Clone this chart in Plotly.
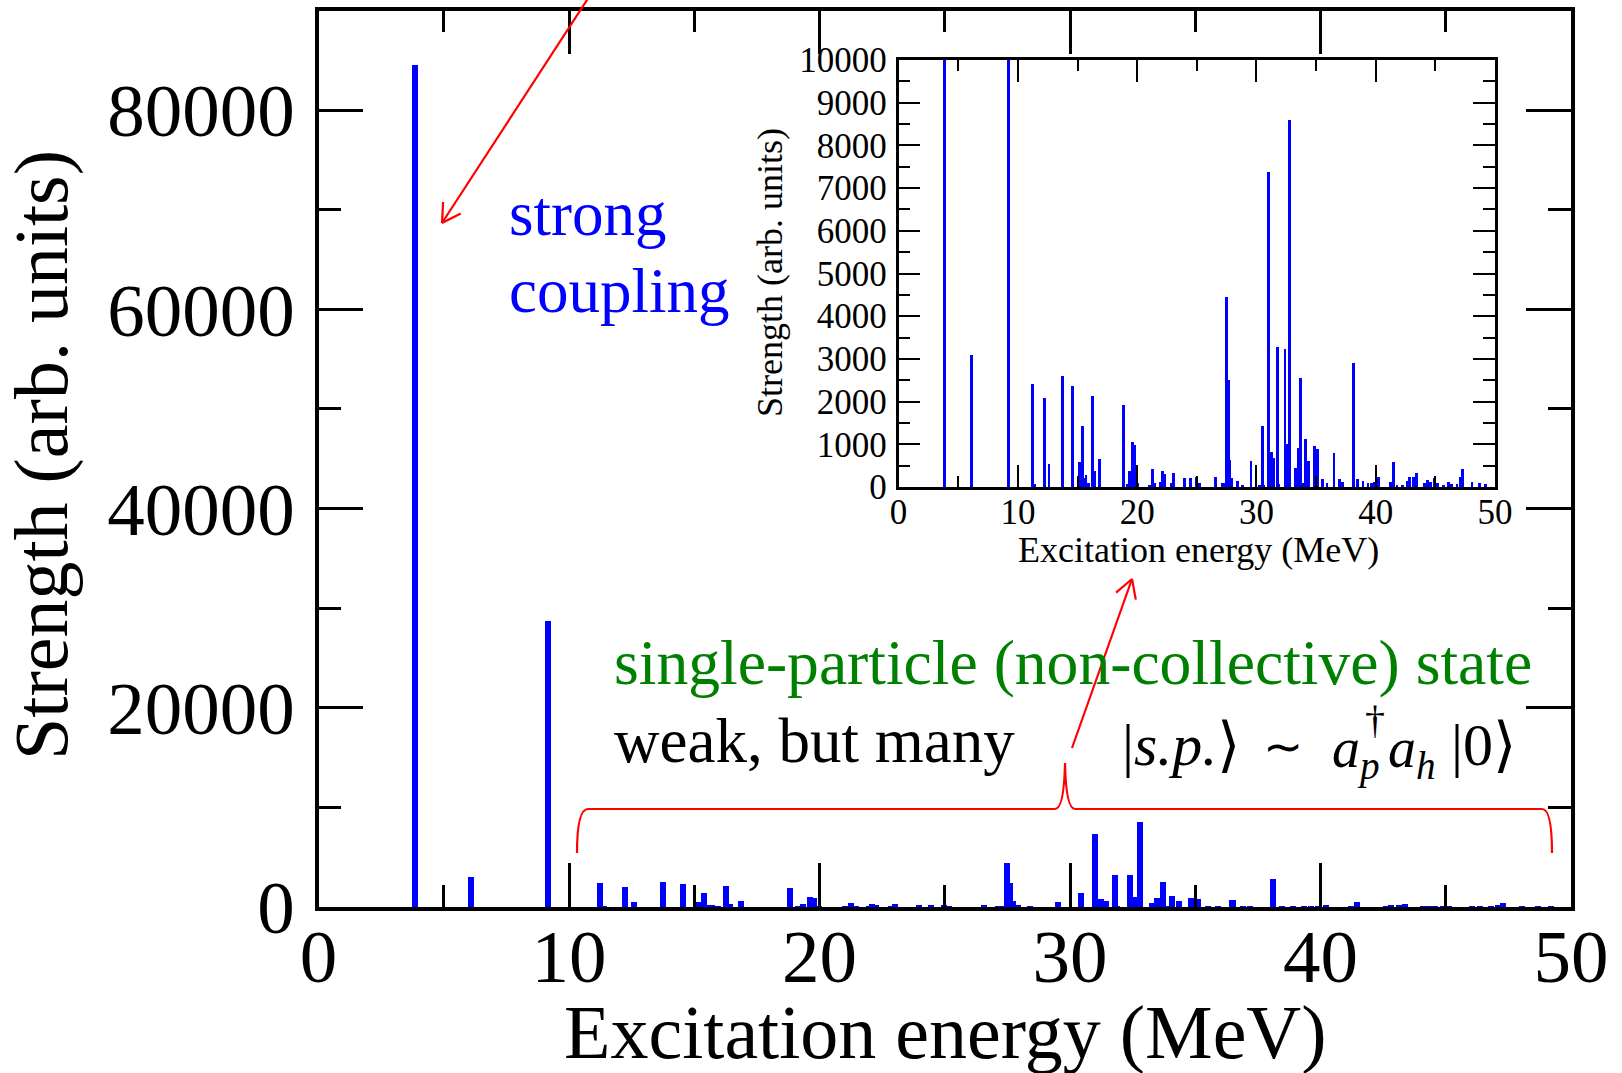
import math
import plotly.graph_objects as go

W, H = 1622, 1073
SERIF = "Liberation Serif"
RED = "#ff0000"
BLUE = "#0000ff"

# Discrete transition strengths: excitation energy (MeV) and strength (arb. units)
energy = [
    3.85, 6.07, 9.15, 11.21, 11.37, 12.23, 12.57, 13.73, 14.52, 15.15,
    15.38, 15.52, 15.68, 15.92, 16.25, 16.41, 16.84, 18.80, 19.13, 19.33,
    19.60, 19.76, 19.96, 20.99, 21.22, 21.45, 21.95, 22.08, 22.25, 22.85,
    23.01, 23.94, 24.44, 24.97, 25.17, 26.56, 27.12, 27.29, 27.45, 27.59,
    27.69, 27.92, 28.38, 28.78, 29.51, 30.24, 30.44, 30.54, 31.00, 31.20,
    31.40, 31.76, 31.86, 32.36, 32.56, 32.76, 33.25, 33.45, 33.69, 33.85,
    34.05, 34.35, 34.81, 35.11, 35.48, 35.88, 36.47, 36.90, 37.17, 38.10,
    38.43, 38.90, 39.32, 39.62, 39.89, 40.19, 41.21, 41.45, 41.75, 42.20,
    42.60, 42.80, 43.13, 43.36, 44.06, 44.30, 44.54, 44.86, 45.12, 45.68,
    46.05, 46.35, 46.78, 47.05, 47.25, 48.04, 48.67, 49.17,
]
strength = [
    84600, 3100, 28800, 2420, 70, 2080, 540, 2600, 2370, 580,
    1440, 210, 290, 95, 2140, 370, 660, 1930, 70, 380,
    1050, 990, 95, 55, 420, 95, 110, 380, 300, 95,
    330, 210, 210, 230, 95, 235, 95, 95, 4440, 2510,
    640, 210, 135, 30, 600, 45, 1420, 30, 7370, 830,
    690, 3280, 60, 3240, 1010, 8600, 450, 920, 2560, 95,
    1130, 620, 960, 890, 190, 95, 790, 190, 125, 2900,
    190, 150, 95, 95, 110, 235, 110, 590, 45, 30,
    135, 235, 235, 330, 95, 170, 110, 200, 95, 45,
    110, 70, 70, 235, 430, 110, 95, 70,
]

x_range = [0, 50]
main_y_range = [0, 90000]
inset_y_range = [0, 10000]


def P(x, y):
    """Pixel position on the page -> paper coordinates."""
    return x / W, 1 - y / H


fig = go.Figure()

fig.add_trace(go.Bar(x=energy, y=strength, width=0.24, marker=dict(color=BLUE, line=dict(width=0)),
                     xaxis="x", yaxis="y", showlegend=False))
fig.add_trace(go.Bar(x=energy, y=strength, width=0.24, marker=dict(color=BLUE, line=dict(width=0)),
                     xaxis="x2", yaxis="y2", showlegend=False))


def axis_style(size, lw, major, minor, dtick, mdtick, rng, domain, anchor, standoff):
    return dict(
        range=rng, domain=domain, anchor=anchor, tick0=0, dtick=dtick,
        ticks="inside", ticklen=major, tickwidth=lw, tickcolor="black",
        minor=dict(ticks="inside", ticklen=minor, tickwidth=lw, tickcolor="black",
                   tick0=0, dtick=mdtick, showgrid=False),
        showline=True, linewidth=lw + 0.5, linecolor="black", mirror="allticks",
        showgrid=False, zeroline=False, tickformat="d", automargin=False,
        ticklabelstandoff=standoff,
        tickfont=dict(family=SERIF, size=size, color="black"),
        fixedrange=True,
    )


mx0, my_top = P(318.6, 10.5)
mx1, my_bot = P(1571, 907)
ix0, iy_top = P(898.6, 60)
ix1, iy_bot = P(1495, 487)

fig.update_layout(
    template="none",
    width=W, height=H,
    margin=dict(l=0, r=0, t=0, b=0, pad=0, autoexpand=False),
    paper_bgcolor="white", plot_bgcolor="white",
    bargap=0, barmode="overlay",
    xaxis=axis_style(75, 3, 44, 22, 10, 5, x_range, [mx0, mx1], "y", -19),
    yaxis=axis_style(75, 3, 45, 23, 20000, 10000, main_y_range, [my_bot, my_top], "x", 5),
    xaxis2=axis_style(35, 2, 22, 11, 10, 5, x_range, [ix0, ix1], "y2", -8),
    yaxis2=axis_style(35, 2, 22, 12, 1000, 500, inset_y_range, [iy_bot, iy_top], "x2", 2),
)

ann = []


def text(x, y, s, size, color="black", xanchor="left", angle=0):
    px, py = P(x, y)
    ann.append(dict(x=px, y=py, xref="paper", yref="paper", text=s, showarrow=False,
                    xanchor=xanchor, yanchor="middle", textangle=angle,
                    font=dict(family=SERIF, size=size, color=color)))


# axis titles
text(945, 1032, "Excitation energy (MeV)", 76, xanchor="center")
text(42, 455, "Strength (arb. units)", 76, xanchor="center", angle=-90)
text(1198, 550, "Excitation energy (MeV)", 36, xanchor="center")
text(770, 273, "Strength (arb. units)", 36, xanchor="center", angle=-90)

# labels
text(507, 214, "strong", 63, BLUE)
text(507, 291, "coupling", 63, BLUE)
text(612, 662, "single-particle (non-collective) state", 63.6, "#008000")
text(612, 741, "weak, but many", 63)

# |s.p.> ~ a_p^dagger a_h |0>
text(1120, 745, "|<i>s.p.</i>⟩", 60)
text(1283, 746, "∼", 48, xanchor="center")
text(1330, 752, "<i>a</i><sub><i>p</i></sub>", 56)
text(1386, 752, "<i>a</i><sub><i>h</i></sub>", 56)
text(1449, 745, "|0⟩", 60)
text(1375, 719, "†", 40, xanchor="center")

fig.update_layout(annotations=ann)

shapes = []


def seg(x0, y0, x1, y1, w=2.2):
    a, b = P(x0, y0)
    c, d = P(x1, y1)
    shapes.append(dict(type="line", xref="paper", yref="paper", x0=a, y0=b, x1=c, y1=d,
                       line=dict(color=RED, width=w)))


def arrow(x0, y0, x1, y1, head=21, half=30):
    seg(x0, y0, x1, y1)
    ang = math.atan2(y0 - y1, x0 - x1)
    for s in (-1, 1):
        t = ang + s * math.radians(half)
        seg(x1, y1, x1 + head * math.cos(t), y1 + head * math.sin(t))


arrow(600, -20, 442, 223)
arrow(1072, 748, 1132, 579)

# curly brace spanning the single-particle region
pts = [
    ("M", [(577, 853)]),
    ("Q", [(577, 809), (588, 809)]),
    ("L", [(1055, 809)]),
    ("Q", [(1064, 809), (1065, 763)]),
    ("Q", [(1066, 809), (1075, 809)]),
    ("L", [(1542, 809)]),
    ("Q", [(1552, 809), (1552, 853)]),
]
path = ""
for cmd, cs in pts:
    path += cmd + " " + " ".join("%.6f,%.6f" % P(x, y) for x, y in cs) + " "
shapes.append(dict(type="path", xref="paper", yref="paper", path=path.strip(),
                   line=dict(color=RED, width=2.2)))

fig.update_layout(shapes=shapes)

fig.write_html("out.html")
